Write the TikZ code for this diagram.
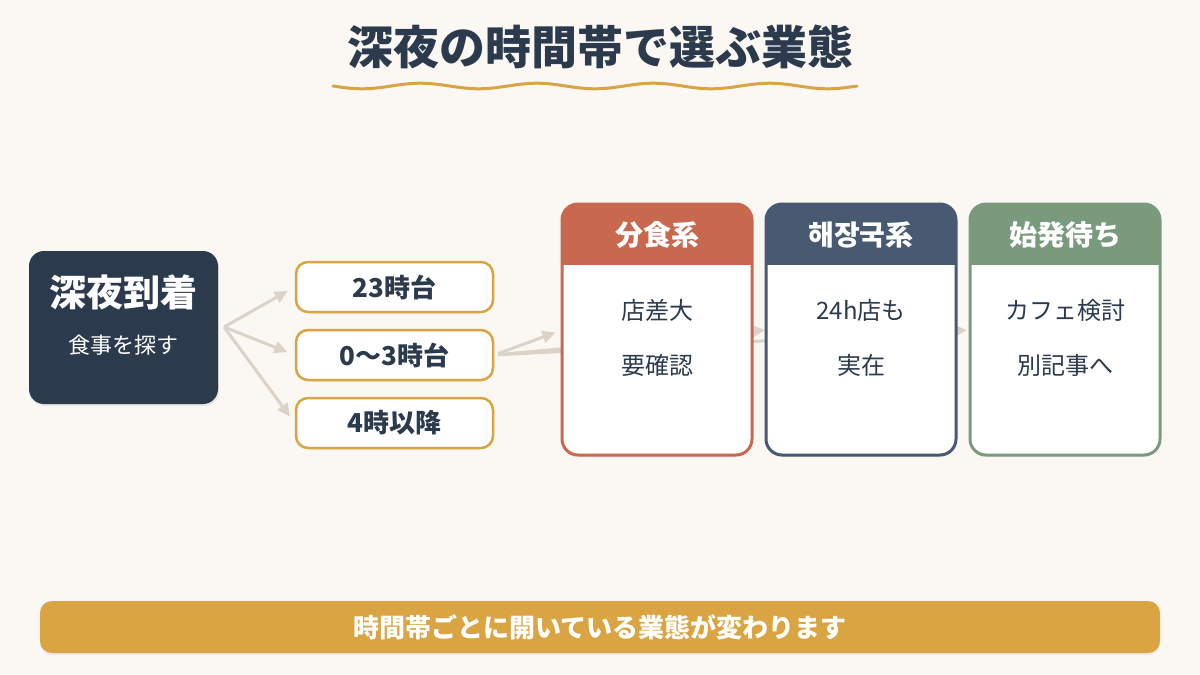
\documentclass[tikz,border=0pt]{standalone}
\usepackage{fontspec}
\setmainfont{Noto Sans CJK JP}
\usetikzlibrary{arrows.meta,shadows}
\definecolor{bg}{HTML}{FBF7F3}
\definecolor{navy}{HTML}{2B3A4D}
\definecolor{gold}{HTML}{D9A441}
\definecolor{arrowc}{HTML}{DCD3C8}
\definecolor{terra}{HTML}{C8694F}
\definecolor{slate}{HTML}{475A72}
\definecolor{sage}{HTML}{7A9A7E}
\tikzset{
  fs/.style={font=\fontsize{#1}{#1}\selectfont},
  fsb/.style={font=\fontsize{#1}{#1}\selectfont\bfseries},
  slot/.style={draw=gold, line width=2.5pt, fill=white, rounded corners=12pt,
    minimum width=197pt, minimum height=50pt, text=navy, inner sep=0pt},
  link/.style={draw=arrowc, line width=3pt, -{Triangle[length=13pt,width=12pt]}},
  card/.style={draw=#1, line width=3pt, fill=white, rounded corners=16pt,
    minimum width=190pt, minimum height=251pt, inner sep=0pt,
    drop shadow={opacity=0.12, shadow xshift=0pt, shadow yshift=-2pt}},
}
\newcommand\mycard[6]{%
  \node[card=#3] (#1) at (#2,329.5) {};
  \fill[#3, rounded corners=14.5pt] ([xshift=1.5pt,yshift=-1.5pt]#1.north west) rectangle ([xshift=-1.5pt,yshift=-62pt]#1.north east);
  \fill[#3] ([xshift=1.5pt,yshift=-35pt]#1.north west) rectangle ([xshift=-1.5pt,yshift=-62pt]#1.north east);
  \node[fsb=28, text=white] (#1h) at (#2,235) {#4};
  \node[fs=24, text=navy] (#1a) at (#2,310) {#5};
  \node[fs=24, text=navy] (#1b) at (#2,365) {#6};
}
\begin{document}
\begin{tikzpicture}[x=1pt,y=-1pt]
\fill[bg] (0,0) rectangle (1200,675);
\useasboundingbox (0,0) rectangle (1200,675);

% title
\node[fsb=46, text=navy] (title) at (600,47) {深夜の時間帯で選ぶ業態};
\draw[gold, line width=3pt, line cap=round] plot[domain=333:857, samples=120]
  (\x, {86 + 2.8*sin((\x-333)/524*4.5*360)});

% left box
\node[fill=navy, rounded corners=15pt, minimum width=189pt, minimum height=153pt,
  drop shadow={opacity=0.15, shadow xshift=1pt, shadow yshift=-2pt}] (start) at (123.5,327.5) {};
\node[fsb=37, text=white] (st1) at (123.5,292) {深夜到着};
\node[fs=22, text=white] (st2) at (123.5,345) {食事を探す};

% slots
\node[slot, fsb=26] (s23) at (394.5,287) {23時台};
\node[slot, fsb=26] (s03) at (394.5,355) {0〜3時台};
\node[slot, fsb=26] (s4)  at (394.5,423) {4時以降};

\coordinate (fork) at (224,327);
\draw[link, shorten >=8pt] (fork) -- (s23.west);
\draw[link, shorten >=8pt] (fork) -- (s03.west);
\draw[link, shorten >=8pt] (fork) -- (s4.west);

% links to cards (behind)
\coordinate (c1in) at (562,330);
\coordinate (c2in) at (766,330);
\coordinate (c3in) at (970,330);
\draw[link, shorten <=4pt, shorten >=7pt] (s03.east) -- (c1in);
\draw[link, shorten <=4pt, shorten >=1pt] (s03.east) -- (c2in);
\draw[link, shorten <=4pt, shorten >=3pt] (s03.east) -- (c3in);

% cards
\mycard{c1}{657}{terra}{分食系}{店差大}{要確認}
\mycard{c2}{861}{slate}{해장국系}{24h店も}{実在}
\mycard{c3}{1065}{sage}{始発待ち}{カフェ検討}{別記事へ}

% bottom bar
\node[fill=gold, rounded corners=12pt, minimum width=1120pt, minimum height=52pt,
  drop shadow={opacity=0.12, shadow xshift=0pt, shadow yshift=-2pt},
  fsb=26, text=white] (bar) at (600,627) {時間帯ごとに開いている業態が変わります};
\end{tikzpicture}
\end{document}
